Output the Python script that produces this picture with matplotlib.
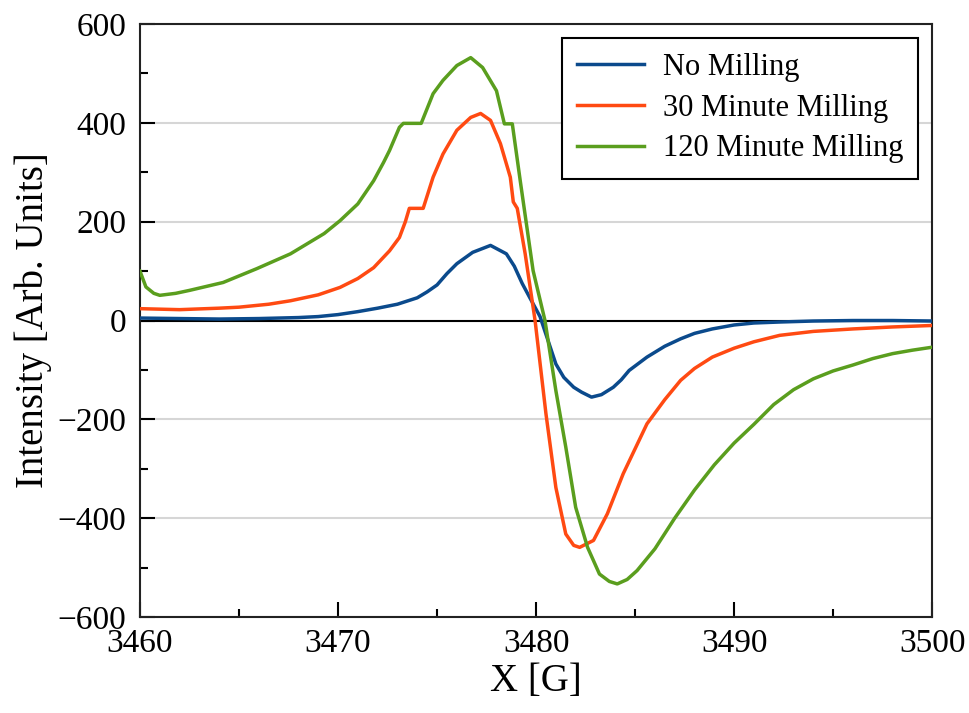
import matplotlib
matplotlib.use("Agg")
import matplotlib.pyplot as plt
from matplotlib.ticker import MultipleLocator

plt.rcParams['font.family'] = ['Liberation Serif', 'DejaVu Serif']

# field [G] and intensity
x_none = [3460, 3462, 3464, 3466, 3468, 3469, 3470, 3471, 3472, 3473, 3474, 3474.5, 3475, 3475.5,
          3476, 3476.8, 3477.7, 3478.5, 3478.9, 3479.3, 3479.7, 3480.2, 3480.6, 3481.0, 3481.4,
          3481.9, 3482.3, 3482.8, 3483.3, 3483.9, 3484.3, 3484.7, 3485.6, 3486.5, 3487.3, 3488,
          3488.9, 3490, 3491, 3492.3, 3494, 3496, 3498, 3500]
y_none = [5, 4, 3, 4, 6, 8, 12, 18, 25, 33, 46, 58, 72, 95,
          115, 138, 152, 135, 110, 75, 45, 8, -40, -88, -115,
          -135, -145, -155, -150, -135, -120, -101, -74, -52, -37, -26,
          -17, -9, -5, -3, -1, 0, 0, -1]

x_30 = [3460, 3462, 3464, 3465, 3466.5, 3467.6, 3469, 3470.1, 3471, 3471.8, 3472.6, 3473.1, 3473.4,
        3473.6, 3474.3, 3474.8, 3475.3, 3476, 3476.7, 3477.2, 3477.7, 3478.2, 3478.7, 3478.85,
        3479.05, 3479.45, 3479.95, 3480.5, 3481.0, 3481.5, 3481.9, 3482.2, 3482.9, 3483.6,
        3484.4, 3485.6, 3486.5, 3487.3, 3488, 3488.9, 3490, 3491, 3492.3, 3494, 3496, 3498, 3500]
y_30 = [24, 22, 25, 27, 33, 40, 52, 67, 85, 107, 141, 168, 200,
        227, 227, 290, 337, 385, 411, 419, 405, 358, 290, 240,
        227, 135, 0, -189, -338, -432, -455, -459, -445, -391,
        -310, -209, -160, -121, -97, -74, -56, -43, -30, -22, -17, -13, -10]

x_120 = [3460, 3460.3, 3460.7, 3461, 3461.8, 3462.5, 3464.2, 3465.9, 3467.6, 3469.3, 3470.1, 3471,
         3471.8, 3472.3, 3472.6, 3473.1, 3473.3, 3474.2, 3474.8, 3475.3, 3476, 3476.7, 3477.3,
         3478, 3478.4, 3478.8, 3479.2, 3479.85, 3480.45, 3481.0, 3481.5, 3482.0, 3482.6, 3483.2,
         3483.7, 3484.1, 3484.6, 3485.1, 3486, 3487, 3488, 3489, 3490, 3491, 3492, 3493, 3494,
         3495, 3496, 3497, 3498, 3499, 3500]
y_120 = [100, 68, 55, 51, 55, 61, 77, 105, 135, 176, 202, 236,
         283, 320, 344, 391, 399, 399, 459, 486, 516, 532, 512,
         465, 398, 398, 283, 101, 0, -142, -256, -378, -459, -513,
         -528, -533, -524, -506, -462, -400, -343, -292, -248, -210, -170, -140, -118,
         -102, -90, -77, -67, -60, -54]

labels = ['No Milling', '30 Minute Milling', '120 Minute Milling']
colors = ['#0b4a8c', '#ff4a12', '#5a9e1e']

fig = plt.figure(figsize=(9.7, 7.13), dpi=100)
ax = fig.add_axes([0.1443, 0.1346, 0.8167, 0.8317])

ax.plot(x_none, y_none, color=colors[0], lw=2.5, label=labels[0], zorder=3)
ax.plot(x_30, y_30, color=colors[1], lw=2.5, label=labels[1], zorder=3)
ax.plot(x_120, y_120, color=colors[2], lw=2.5, label=labels[2], zorder=3)
ax.axhline(0, color='black', lw=1.5, zorder=2)

ax.set_xlim(3460, 3500)
ax.set_ylim(-600, 600)
ax.xaxis.set_major_locator(MultipleLocator(10))
ax.xaxis.set_minor_locator(MultipleLocator(5))
ax.yaxis.set_major_locator(MultipleLocator(200))
ax.yaxis.set_minor_locator(MultipleLocator(100))
ax.tick_params(which='both', direction='in', top=False, right=False, width=1.5, labelsize=24)
ax.tick_params(which='major', length=10.5)
ax.tick_params(which='minor', length=5.5)
ax.tick_params(axis='x', pad=8)
ax.tick_params(axis='y', pad=10)
ax.grid(axis='y', which='major', color='#d6d6d6', lw=1.5, zorder=1)
for s in ax.spines.values():
    s.set_linewidth(1.5)
    s.set_color('#222222')

ax.set_xlabel('X [G]', fontsize=28, labelpad=3)
ax.set_ylabel('Intensity [Arb. Units]', fontsize=28, labelpad=4)

leg = ax.legend(loc='upper right', fontsize=22, fancybox=False, framealpha=1,
                edgecolor='black', handlelength=2.2, handletextpad=0.6,
                borderpad=0.5, labelspacing=0.38, borderaxespad=0.45)
leg.get_frame().set_linewidth(1.5)

fig.savefig('out.png', dpi=100)
